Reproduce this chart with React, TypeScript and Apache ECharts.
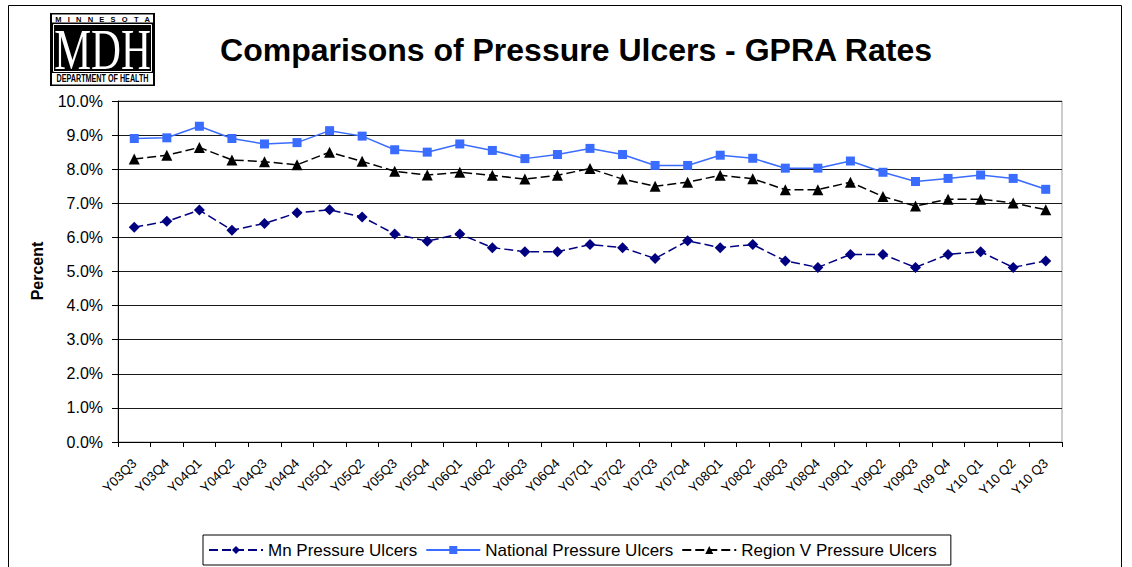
import React, { useEffect, useRef } from "react";
import * as echarts from "echarts";

const categories = [
  "Y03Q3", "Y03Q4", "Y04Q1", "Y04Q2", "Y04Q3", "Y04Q4", "Y05Q1", "Y05Q2", "Y05Q3", "Y05Q4",
  "Y06Q1", "Y06Q2", "Y06Q3", "Y06Q4", "Y07Q1", "Y07Q2", "Y07Q3", "Y07Q4", "Y08Q1", "Y08Q2",
  "Y08Q3", "Y08Q4", "Y09Q1", "Y09Q2", "Y09Q3", "Y09 Q4", "Y10 Q1", "Y10 Q2", "Y10 Q3",
];

const mnValues = [
  6.3, 6.47, 6.8, 6.21, 6.41, 6.72, 6.81, 6.6, 6.1, 5.89,
  6.1, 5.7, 5.58, 5.58, 5.79, 5.7, 5.38, 5.9, 5.7, 5.79,
  5.31, 5.12, 5.5, 5.5, 5.12, 5.5, 5.58, 5.12, 5.31,
];

const nationalValues = [
  8.9, 8.92, 9.26, 8.9, 8.74, 8.78, 9.13, 8.97, 8.57, 8.5,
  8.74, 8.55, 8.31, 8.43, 8.61, 8.43, 8.11, 8.11, 8.41, 8.32,
  8.03, 8.03, 8.24, 7.91, 7.64, 7.73, 7.83, 7.73, 7.41,
];

const regionValues = [
  8.3, 8.41, 8.64, 8.27, 8.22, 8.13, 8.5, 8.23, 7.94, 7.83,
  7.91, 7.82, 7.71, 7.82, 8.02, 7.71, 7.5, 7.62, 7.82, 7.72,
  7.4, 7.4, 7.62, 7.2, 6.92, 7.12, 7.12, 7.01, 6.81,
];

const seriesNames = ["Mn Pressure Ulcers", "National Pressure Ulcers", "Region V Pressure Ulcers"];
const titleText = "Comparisons of Pressure Ulcers - GPRA Rates";
const yAxisTitle = "Percent";

const FONT = "'Liberation Sans', Arial, sans-serif";

export default function App() {
  const ref = useRef<HTMLDivElement>(null);

  useEffect(() => {
    if (!ref.current) return;
    const chart = echarts.init(ref.current, null, { renderer: "svg" });
    chart.setOption({
      animation: false,
      backgroundColor: "#ffffff",
      textStyle: { fontFamily: FONT },
      grid: {
        left: 118,
        right: 70,
        top: 101,
        bottom: 125,
        show: true,
        borderColor: "#9a9a9a",
        borderWidth: 1,
        backgroundColor: "transparent",
      },
      xAxis: {
        type: "category",
        data: categories,
        boundaryGap: true,
        axisLine: { lineStyle: { color: "#000", width: 1 } },
        axisTick: { show: true, length: 5, lineStyle: { color: "#000" } },
        axisLabel: {
          interval: 0,
          rotate: 45,
          color: "#000",
          fontFamily: FONT,
          fontSize: 13.3,
          margin: 19,
        },
        splitLine: { show: false },
      },
      yAxis: {
        type: "value",
        min: 0,
        max: 10,
        interval: 1,
        axisLine: { show: true, lineStyle: { color: "#000", width: 1 } },
        axisTick: { show: true, length: 6, lineStyle: { color: "#000" } },
        axisLabel: {
          color: "#000",
          fontFamily: FONT,
          fontSize: 16,
          margin: 15,
          formatter: (v: number) => `${v.toFixed(1)}%`,
        },
        splitLine: { show: true, lineStyle: { color: "#1a1a1a", width: 1 } },
      },
      legend: {
        show: true,
        left: 203,
        top: 535,
        orient: "horizontal",
        borderColor: "#000",
        borderWidth: 1,
        padding: [6, 14, 6, 5],
        itemGap: 8,
        itemWidth: 54,
        itemHeight: 10,
        textStyle: { fontFamily: FONT, fontSize: 17, lineHeight: 18, color: "#000" },
        data: seriesNames,
      },
      series: [
        {
          name: seriesNames[0],
          type: "line",
          data: mnValues,
          symbol: "diamond",
          symbolSize: 11,
          color: "#000080",
          itemStyle: { color: "#000080" },
          lineStyle: { color: "#000080", width: 1.5, type: [9, 4] },
        },
        {
          name: seriesNames[1],
          type: "line",
          data: nationalValues,
          symbol: "rect",
          symbolSize: 9,
          color: "#3a6cff",
          itemStyle: { color: "#3a6cff" },
          lineStyle: { color: "#3a6cff", width: 1.5, type: "solid" },
        },
        {
          name: seriesNames[2],
          type: "line",
          data: regionValues,
          symbol: "triangle",
          symbolSize: 11,
          color: "#000",
          itemStyle: { color: "#000" },
          lineStyle: { color: "#000", width: 1.5, type: [9, 4] },
        },
      ],
      graphic: [
        {
          type: "rect",
          silent: true,
          shape: { x: 8.5, y: 5.5, width: 1113, height: 570 },
          style: { fill: "none", stroke: "#000", lineWidth: 1 },
          z: -10,
        },
        {
          type: "text",
          x: 576,
          y: 50,
          style: {
            text: titleText,
            fontFamily: FONT,
            fontWeight: "bold",
            fontSize: 32,
            fill: "#000",
            textAlign: "center",
            textVerticalAlign: "middle",
          },
        },
        {
          type: "text",
          x: 37,
          y: 271,
          rotation: Math.PI / 2,
          style: {
            text: yAxisTitle,
            fontFamily: FONT,
            fontWeight: "bold",
            fontSize: 16,
            fill: "#000",
            textAlign: "center",
            textVerticalAlign: "middle",
          },
        },
        {
          type: "group",
          x: 50,
          y: 13,
          children: [
            { type: "rect", shape: { x: 0, y: 0, width: 105, height: 73 }, style: { fill: "#000" } },
            { type: "rect", shape: { x: 2, y: 1.5, width: 101, height: 8 }, style: { fill: "#fff" } },
            {
              type: "text",
              x: 52.5,
              y: 6,
              style: {
                text: "M   I   N   N   E   S   O   T   A",
                fontFamily: FONT,
                fontWeight: "bold",
                fontSize: 7.5,
                fill: "#000",
                textAlign: "center",
                textVerticalAlign: "middle",
              },
            },
            {
              type: "rect",
              shape: { x: 3.5, y: 11.5, width: 98, height: 47 },
              style: { fill: "none", stroke: "#fff", lineWidth: 1 },
            },
            {
              type: "text",
              x: 52.5,
              y: 37,
              scaleX: 0.74,
              style: {
                text: "MDH",
                fontFamily: "'Liberation Serif', 'DejaVu Serif', serif",
                fontSize: 56,
                fill: "#fff",
                textAlign: "center",
                textVerticalAlign: "middle",
              },
            },
            { type: "rect", shape: { x: 2, y: 60, width: 101, height: 11.5 }, style: { fill: "#fff" } },
            {
              type: "text",
              x: 52.5,
              y: 66,
              scaleX: 0.72,
              style: {
                text: "DEPARTMENT OF HEALTH",
                fontFamily: FONT,
                fontWeight: "bold",
                fontSize: 10,
                fill: "#000",
                textAlign: "center",
                textVerticalAlign: "middle",
              },
            },
          ],
        },
      ],
    });
    return () => chart.dispose();
  }, []);

  return (
    <div
      ref={ref}
      style={{ position: "fixed", left: 0, top: 0, width: 1132, height: 567, background: "#fff" }}
    />
  );
}
